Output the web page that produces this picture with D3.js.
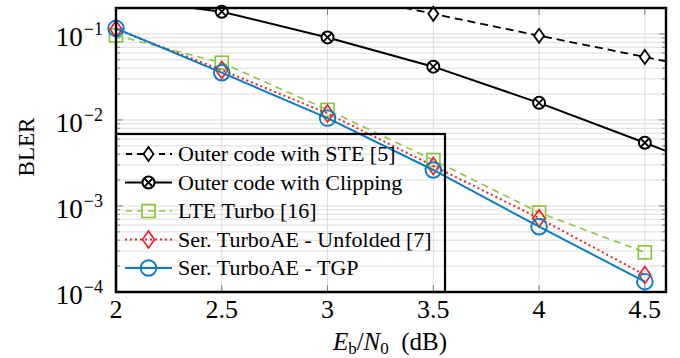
<!DOCTYPE html>
<html><head><meta charset="utf-8">
<script src="https://cdn.jsdelivr.net/npm/d3@7/dist/d3.min.js"></script>
<style>html,body{margin:0;padding:0;background:#fff}svg{display:block;font-family:"Liberation Serif","Times New Roman",serif}</style>
</head><body><svg id="c" width="680" height="358"></svg>
<script>
const xTicks = [2, 2.5, 3, 3.5, 4, 4.5];
const yTickExps = [-1, -2, -3, -4];
const ebn0 = [2, 2.5, 3, 3.5, 4, 4.5];
const steX = [3, 3.5, 4, 4.5, 5];
const steVals = [0.31, 0.171, 0.0953, 0.054, 0.030];
const clipX = [2, 2.5, 3, 3.5, 4, 4.5, 5];
const clipVals = [0.26, 0.181, 0.091, 0.0416, 0.0158, 0.00543, 0.0018];
const lteVals = [0.096, 0.0462, 0.0131, 0.00342, 0.00084, 0.000289];
const unfoldedVals = [0.113, 0.038, 0.0119, 0.00292, 0.00072, 0.000158];
const tgpVals = [0.116, 0.0354, 0.0105, 0.00262, 0.000574, 0.000132];
const legendLabels = ["Outer code with STE [5]", "Outer code with Clipping", "LTE Turbo [16]", "Ser. TurboAE - Unfolded [7]", "Ser. TurboAE - TGP"];

const L = 116, R = 666, T = 8, B = 292;
const x = d3.scaleLinear().domain([2, 4.6]).range([L, R]);
const y = d3.scaleLog().domain([1e-4, 0.2]).range([B, T]);
const svg = d3.select("#c");

// grid
const g = svg.append("g");
const minorVals = [];
for (let e = -4; e <= -1; e++) for (let m = 1; m <= 9; m++) { const v = m * Math.pow(10, e); if (v <= 0.2) minorVals.push(v); }
g.selectAll(".hg").data(minorVals).join("line")
  .attr("x1", L).attr("x2", R).attr("y1", d => y(d)).attr("y2", d => y(d))
  .attr("stroke", "#dcdcdc").attr("stroke-width", 1);
g.selectAll(".vg").data(xTicks).join("line")
  .attr("x1", d => x(d)).attr("x2", d => x(d)).attr("y1", T).attr("y2", B)
  .attr("stroke", "#dcdcdc").attr("stroke-width", 1);

// ticks (inward)
const tk = svg.append("g").attr("stroke", "#808080").attr("stroke-width", 1);
const majorY = yTickExps.map(e => Math.pow(10, e));
minorVals.forEach(v => {
  const isMajor = majorY.some(m => Math.abs(m - v) / m < 1e-9);
  const len = isMajor ? 7 : 4;
  tk.append("line").attr("x1", L).attr("x2", L + len).attr("y1", y(v)).attr("y2", y(v));
  tk.append("line").attr("x1", R).attr("x2", R - len).attr("y1", y(v)).attr("y2", y(v));
});
xTicks.forEach(v => {
  tk.append("line").attr("x1", x(v)).attr("x2", x(v)).attr("y1", B).attr("y2", B - 7);
  tk.append("line").attr("x1", x(v)).attr("x2", x(v)).attr("y1", T).attr("y2", T + 7);
});

// clip
svg.append("clipPath").attr("id", "pc").append("rect").attr("x", L).attr("y", T).attr("width", R - L).attr("height", B - T);

const series = [
  {xs: steX, vs: steVals, color: "#000", dash: "8,5", w: 1.8, marker: "diamondS"},
  {xs: clipX, vs: clipVals, color: "#000", dash: null, w: 2, marker: "otimes"},
  {xs: ebn0, vs: lteVals, color: "#8cc63f", dash: "7,5", w: 1.6, marker: "square"},
  {xs: ebn0, vs: unfoldedVals, color: "#f0222a", dash: "2,3", w: 2, marker: "diamondL"},
  {xs: ebn0, vs: tgpVals, color: "#0c7cc4", dash: null, w: 2, marker: "circle"}
];

function drawMarker(sel, type, cx, cy, color) {
  const m = sel.append("g").attr("transform", `translate(${cx},${cy})`);
  if (type === "diamondS") {
    m.append("path").attr("d", "M0,-7L5,0L0,7L-5,0Z").attr("fill", "#fff").attr("stroke", color).attr("stroke-width", 1.8);
  } else if (type === "diamondL") {
    m.append("path").attr("d", "M0,-8.5L6,0L0,8.5L-6,0Z").attr("fill", "none").attr("stroke", color).attr("stroke-width", 1.7);
  } else if (type === "square") {
    m.append("rect").attr("x", -6.5).attr("y", -6.5).attr("width", 13).attr("height", 13).attr("fill", "none").attr("stroke", color).attr("stroke-width", 1.7);
  } else if (type === "circle") {
    m.append("circle").attr("r", 7.8).attr("fill", "none").attr("stroke", color).attr("stroke-width", 1.9);
  } else if (type === "otimes") {
    m.append("circle").attr("r", 6).attr("fill", "#fff").attr("stroke", color).attr("stroke-width", 2);
    const k = 6 * Math.SQRT1_2;
    m.append("path").attr("d", `M${-k},${-k}L${k},${k}M${-k},${k}L${k},${-k}`).attr("stroke", color).attr("stroke-width", 1.8);
  }
}

const line = d3.line().x(d => x(d[0])).y(d => y(d[1]));
const plot = svg.append("g");
series.forEach(s => {
  const pts = s.xs.map((xv, i) => [xv, s.vs[i]]);
  const p = plot.append("path").datum(pts).attr("d", line).attr("clip-path", "url(#pc)")
    .attr("fill", "none").attr("stroke", s.color).attr("stroke-width", s.w).attr("stroke-linejoin", "round");
  if (s.dash) p.attr("stroke-dasharray", s.dash);
  pts.filter(d => d[0] <= 4.6 && d[1] <= 0.2 && d[1] >= 1e-4).forEach(d => drawMarker(plot, s.marker, x(d[0]), y(d[1]), s.color));
});

// axis box
svg.append("rect").attr("x", L).attr("y", T).attr("width", R - L).attr("height", B - T)
  .attr("fill", "none").attr("stroke", "#000").attr("stroke-width", 2.4);

// tick labels
svg.selectAll(".xl").data(xTicks).join("text")
  .attr("x", d => x(d)).attr("y", 318).attr("text-anchor", "middle").attr("font-size", 26).text(d => d);
yTickExps.forEach(e => {
  const t = svg.append("text").attr("x", 103).attr("y", y(Math.pow(10, e)) + 12).attr("text-anchor", "end").attr("font-size", 27);
  t.append("tspan").text("10");
  t.append("tspan").attr("font-size", 18).attr("dx", 1).attr("dy", -11).text("\u2212" + (-e));
});

// axis labels
svg.append("text").attr("transform", "translate(34,147) rotate(-90)").attr("text-anchor", "middle").attr("font-size", 23).text("BLER");
const xl = svg.append("text").attr("x", 390).attr("y", 350).attr("text-anchor", "middle").attr("font-size", 25);
xl.append("tspan").attr("font-style", "italic").text("E");
xl.append("tspan").attr("font-size", 17).attr("dy", 4).text("b");
xl.append("tspan").attr("dy", -4).text("/");
xl.append("tspan").attr("font-style", "italic").text("N");
xl.append("tspan").attr("font-size", 17).attr("dy", 4).text("0");
xl.append("tspan").attr("dy", -4).text("\u2002(dB)");

// legend
const lg = svg.append("g");
const rowY = [154, 182.5, 211, 239.5, 268];
series.forEach((s, i) => {
  const ln = lg.append("line").attr("x1", 125).attr("x2", 172).attr("y1", rowY[i]).attr("y2", rowY[i])
    .attr("stroke", s.color).attr("stroke-width", s.w);
  if (s.dash) ln.attr("stroke-dasharray", s.dash === "2,3" ? "2,3" : "6,5").attr("stroke-dashoffset", s.dash === "2,3" ? 0 : -1);
  drawMarker(lg, s.marker, 148.5, rowY[i], s.color);
  lg.append("text").attr("x", 178).attr("y", rowY[i] + 7).attr("font-size", 22).text(legendLabels[i]);
});
lg.append("rect").attr("x", L).attr("y", 134).attr("width", 445 - L).attr("height", B - 134)
  .attr("fill", "none").attr("stroke", "#000").attr("stroke-width", 2.2);
</script></body></html>
